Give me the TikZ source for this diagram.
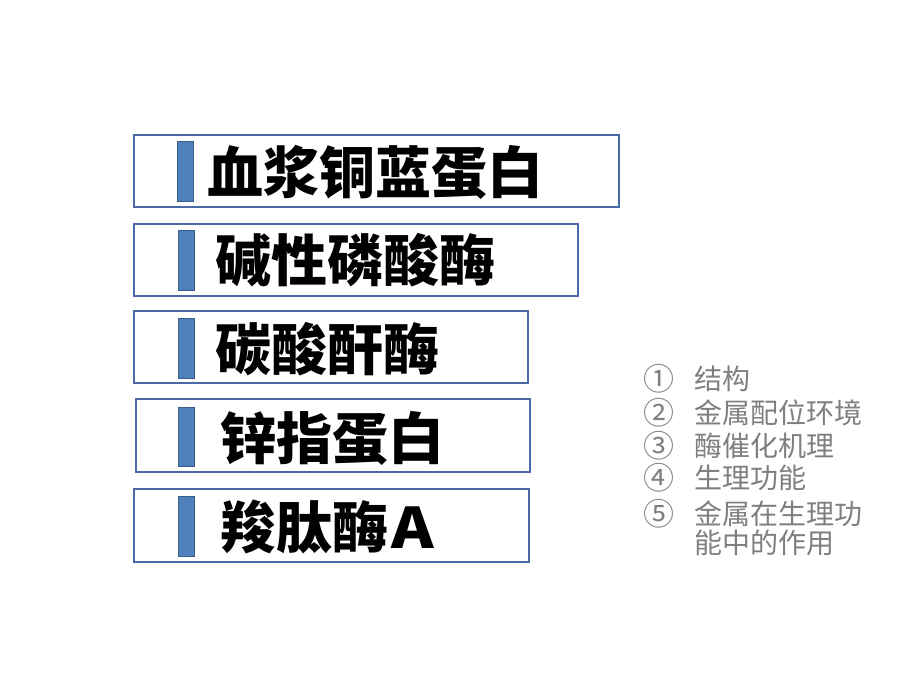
\documentclass[tikz,border=0pt]{standalone}
\usepackage{fontspec}
\newfontfamily\cjk{Noto Sans CJK SC}
\definecolor{boxline}{HTML}{4A6AA5}
\definecolor{barfill}{HTML}{4F81BD}
\definecolor{barline}{HTML}{385D8A}
\definecolor{listgray}{HTML}{7F7F7F}
\tikzset{
  titlebox/.style={draw=boxline, line width=1.8pt, fill=white},
  bluebar/.style={draw=barline, line width=1pt, fill=barfill},
  bigtext/.style={anchor=base west, inner sep=0pt, font=\cjk\bfseries\fontsize{56}{56}\selectfont, text=black},
  listnum/.style={anchor=base west, inner sep=0pt, font=\cjk\fontsize{31}{31}\selectfont, text=listgray},
  listtext/.style={anchor=base west, inner sep=0pt, font=\cjk\fontsize{28}{28}\selectfont, text=listgray}
}
\begin{document}
\begin{tikzpicture}[x=1pt,y=-1pt]
\useasboundingbox[fill=white] (0,0) rectangle (920,690);
% boxes
\draw[titlebox] (134,135) rectangle (619,207);
\draw[titlebox] (134,224) rectangle (578,296);
\draw[titlebox] (134,311) rectangle (528,383);
\draw[titlebox] (136,399) rectangle (530,472);
\draw[titlebox] (134,489) rectangle (529,562);
% bars
\draw[bluebar] (177,141) rectangle (193,201);
\draw[bluebar] (178,230) rectangle (194,290);
\draw[bluebar] (178,318) rectangle (194,378);
\draw[bluebar] (178,407) rectangle (194,466);
\draw[bluebar] (178,496) rectangle (194,556);
% titles
\node[bigtext] (t1) at (207,193) {血浆铜蓝蛋白};
\node[bigtext] (t2) at (215,281) {碱性磷酸酶};
\node[bigtext] (t3) at (215,370) {碳酸酐酶};
\node[bigtext] (t4) at (220,459) {锌指蛋白};
\node[bigtext] (t5) at (220,548) {羧肽酶\hspace{3pt}\scalebox{1.15}[1]{A}};
% list
\node[listnum] (n1) at (643,390) {①};
\node[listnum] (n2) at (643,424) {②};
\node[listnum] (n3) at (643,457) {③};
\node[listnum] (n4) at (643,489) {④};
\node[listnum] (n5) at (643,525) {⑤};
\node[listtext] (l1) at (694,389) {结构};
\node[listtext] (l2) at (694,423) {金属配位环境};
\node[listtext] (l3) at (694,456) {酶催化机理};
\node[listtext] (l4) at (694,488) {生理功能};
\node[listtext] (l5) at (694,524) {金属在生理功};
\node[listtext] (l6) at (694,553) {能中的作用};
\end{tikzpicture}
\end{document}
